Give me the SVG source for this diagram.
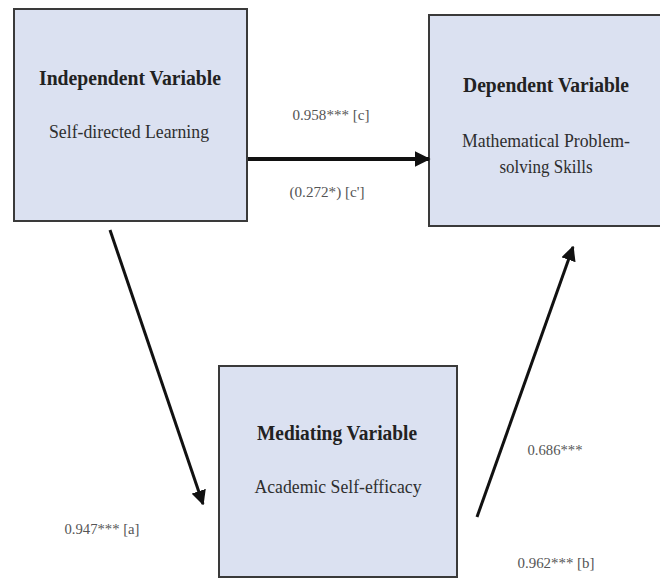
<svg xmlns="http://www.w3.org/2000/svg" width="660" height="579" viewBox="0 0 660 579">
<defs>
<style>
.box{fill:#dbe1f1;stroke:#3a3a3a;stroke-width:2}
.title{font-family:"Liberation Serif",serif;font-weight:bold;font-size:20px;fill:#222;text-anchor:middle}
.sub{font-family:"Liberation Serif",serif;font-size:18px;fill:#2e2e2e;text-anchor:middle}
.lbl{font-family:"Liberation Serif",serif;font-size:14px;fill:#555;text-anchor:middle}
.conn{stroke:#111;fill:none}
</style>
<marker id="ah" viewBox="0 0 10 10" refX="9" refY="5" markerWidth="4" markerHeight="4" orient="auto" markerUnits="strokeWidth">
<path d="M0,0 L10,5 L0,10 z" fill="#111"/>
</marker>
<marker id="ah2" viewBox="0 0 10 10" refX="9" refY="5" markerWidth="5" markerHeight="5" orient="auto" markerUnits="strokeWidth">
<path d="M0,0 L10,5 L0,10 z" fill="#111"/>
</marker>
</defs>
<rect width="660" height="579" fill="#fff"/>
<g id="independent">
<rect class="box" x="14" y="9" width="233" height="212"/>
<text class="title" x="130" y="85" textLength="182" lengthAdjust="spacingAndGlyphs">Independent Variable</text>
<text class="sub" x="129" y="138" textLength="160" lengthAdjust="spacingAndGlyphs">Self-directed Learning</text>
</g>
<g id="dependent">
<rect class="box" x="429" y="15" width="232" height="211"/>
<text class="title" x="546" y="92" textLength="166" lengthAdjust="spacingAndGlyphs">Dependent Variable</text>
<text class="sub" x="546" y="147" textLength="168" lengthAdjust="spacingAndGlyphs">Mathematical Problem-</text>
<text class="sub" x="546" y="173" textLength="93" lengthAdjust="spacingAndGlyphs">solving Skills</text>
</g>
<g id="mediating">
<rect class="box" x="219" y="366" width="238" height="211"/>
<text class="title" x="337" y="440" textLength="160" lengthAdjust="spacingAndGlyphs">Mediating Variable</text>
<text class="sub" x="338" y="493" textLength="167" lengthAdjust="spacingAndGlyphs">Academic Self-efficacy</text>
</g>
<g id="connectors">
<line class="conn" x1="248" y1="159" x2="429" y2="159" stroke-width="4" marker-end="url(#ah)"/>
<line class="conn" x1="110" y1="230" x2="203" y2="504" stroke-width="3" marker-end="url(#ah2)"/>
<line class="conn" x1="477" y1="517" x2="573" y2="247" stroke-width="3" marker-end="url(#ah2)"/>
</g>
<g id="labels">
<text class="lbl" x="331" y="120" textLength="77" lengthAdjust="spacingAndGlyphs">0.958*** [c]</text>
<text class="lbl" x="327" y="197" textLength="75" lengthAdjust="spacingAndGlyphs">(0.272*) [c']</text>
<text class="lbl" x="102" y="534" textLength="75" lengthAdjust="spacingAndGlyphs">0.947*** [a]</text>
<text class="lbl" x="555" y="455" textLength="55" lengthAdjust="spacingAndGlyphs">0.686***</text>
<text class="lbl" x="556" y="568" textLength="77" lengthAdjust="spacingAndGlyphs">0.962*** [b]</text>
</g>
</svg>
